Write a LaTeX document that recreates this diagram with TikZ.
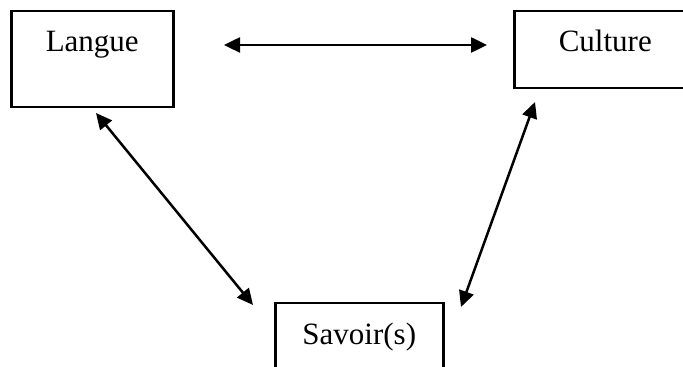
\documentclass[tikz,border=0pt]{standalone}
\usepackage{fontspec}
\setmainfont{Liberation Serif}
\usetikzlibrary{arrows.meta}

\begin{document}
\begin{tikzpicture}[x=0.5pt,y=-0.5pt,
  >={Triangle[length=8pt,width=7.5pt]},
  box/.style={draw,line width=1.25pt,inner sep=0pt,anchor=north west,font=\fontsize{15.5}{18}\selectfont},
  link/.style={<->,line width=1.25pt}]
\useasboundingbox (0,0) rectangle (683,367);
\clip (0,0) rectangle (683,367);
\node[box,minimum width=81pt,text height=20pt,text depth=28pt] (langue) at (10,10) {Langue};
\node[box,minimum width=91pt,text height=20pt,text depth=18.5pt] (culture) at (513,10) {Culture};
\node[box,minimum width=84pt,text height=20.5pt,text depth=20pt] (savoir) at (274,302) {Savoir(s)};
% free ends of the arrows
\coordinate (lc1) at (224,45);
\coordinate (lc2) at (487,45);
\coordinate (ls1) at (96,113);
\coordinate (ls2) at (253,305);
\coordinate (cs1) at (535,102);
\coordinate (cs2) at (461,307);
\draw[link] (lc1) -- (lc2);
\draw[link] (ls1) -- (ls2);
\draw[link] (cs1) -- (cs2);
\end{tikzpicture}
\end{document}
